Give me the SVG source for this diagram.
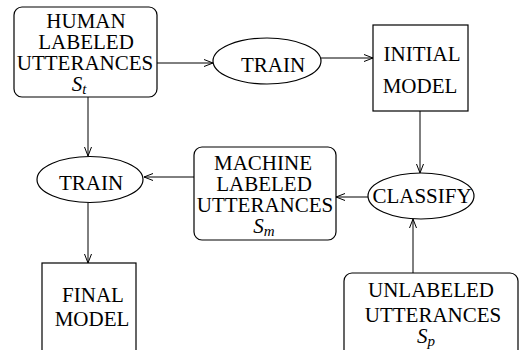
<svg xmlns="http://www.w3.org/2000/svg" width="519" height="350" viewBox="0 0 519 350">
  <style>
    .box { fill: #fff; stroke: #000; stroke-width: 1.2; }
    .oval { fill: #fff; stroke: #000; stroke-width: 1.2; }
    text { font-family: "Liberation Serif", "Times New Roman", Times, "DejaVu Serif", serif; font-size: 21px; fill: #000; text-anchor: middle; }
    .sym { font-style: italic; }
    .sub { font-size: 15px; }
    .edge { fill: none; stroke: #000; stroke-width: 1; marker-end: url(#open); }
  </style>
  <defs>
    <marker id="open" markerUnits="userSpaceOnUse" markerWidth="10" markerHeight="8" refX="9" refY="3.5" orient="auto" viewBox="0 0 10 7">
      <path d="M0,0 L9,3.5 L0,7" fill="none" stroke="#000" stroke-width="1"/>
    </marker>
  </defs>

  <rect width="519" height="350" fill="#fff"/>

  <g id="connectors">
    <line class="edge" x1="157" y1="63" x2="213" y2="63"/>
    <line class="edge" x1="321" y1="58" x2="373" y2="58"/>
    <line class="edge" x1="420" y1="111" x2="420" y2="173"/>
    <line class="edge" x1="413" y1="273" x2="413" y2="219"/>
    <line class="edge" x1="368" y1="197" x2="336" y2="197"/>
    <line class="edge" x1="194" y1="177" x2="144" y2="177"/>
    <line class="edge" x1="88" y1="97" x2="88" y2="156"/>
    <line class="edge" x1="88" y1="203" x2="88" y2="263"/>
  </g>

  <g id="human-labeled">
    <rect class="box" x="14" y="7" width="143" height="90" rx="8"/>
    <text><tspan x="86" y="28">HUMAN</tspan><tspan x="86" y="49">LABELED</tspan><tspan x="85" y="70">UTTERANCES</tspan></text>
    <text class="sym" x="79" y="91">S<tspan class="sub" dy="3">t</tspan></text>
  </g>

  <g id="train-initial">
    <ellipse class="oval" cx="267" cy="61" rx="54" ry="23"/>
    <text x="273" y="72">TRAIN</text>
  </g>

  <g id="initial-model">
    <rect class="box" x="373" y="25" width="95" height="86"/>
    <text><tspan x="422" y="61">INITIAL</tspan><tspan x="420" y="93">MODEL</tspan></text>
  </g>

  <g id="classify">
    <ellipse class="oval" cx="421" cy="196" rx="53" ry="23"/>
    <text x="422" y="203">CLASSIFY</text>
  </g>

  <g id="machine-labeled">
    <rect class="box" x="194" y="147" width="142" height="93" rx="8"/>
    <text><tspan x="263" y="170">MACHINE</tspan><tspan x="264" y="191">LABELED</tspan><tspan x="265" y="212">UTTERANCES</tspan></text>
    <text class="sym" x="264" y="233">S<tspan class="sub" dy="3">m</tspan></text>
  </g>

  <g id="train-final">
    <ellipse class="oval" cx="90" cy="179.5" rx="53" ry="23"/>
    <text x="91" y="190">TRAIN</text>
  </g>

  <g id="final-model">
    <rect class="box" x="42" y="263" width="94" height="92"/>
    <text><tspan x="93" y="302">FINAL</tspan><tspan x="92" y="326">MODEL</tspan></text>
  </g>

  <g id="unlabeled">
    <rect class="box" x="344" y="273" width="174" height="90" rx="8"/>
    <text><tspan x="431" y="297">UNLABELED</tspan><tspan x="433" y="322">UTTERANCES</tspan></text>
    <text class="sym" x="426" y="343">S<tspan class="sub" dy="3">p</tspan></text>
  </g>
</svg>
